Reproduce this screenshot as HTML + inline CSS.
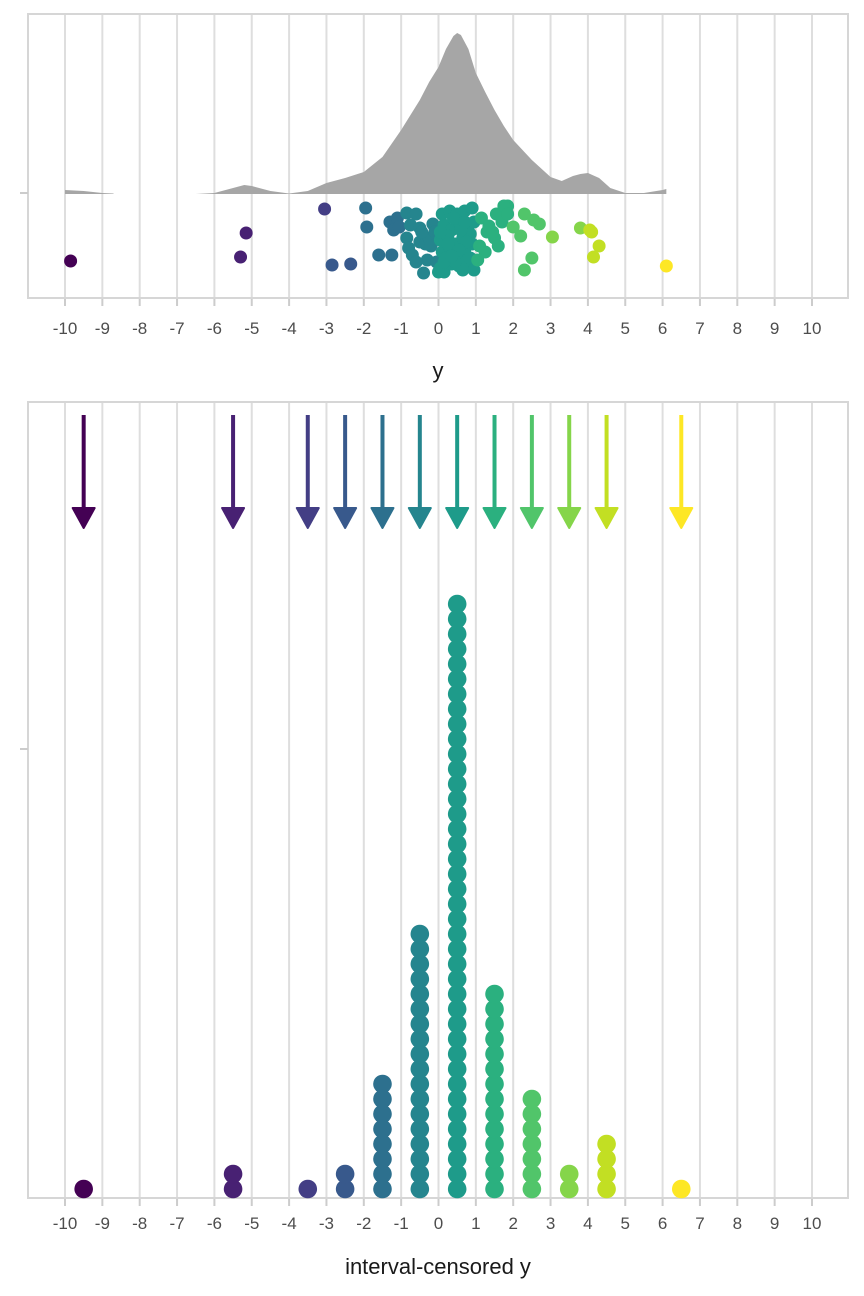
<!DOCTYPE html>
<html><head><meta charset="utf-8"><style>
html,body{margin:0;padding:0;background:#fff;}
svg{display:block;font-family:"Liberation Sans",Arial,sans-serif;}
</style></head><body>
<svg id="chart" width="864" height="1296" viewBox="0 0 864 1296">
<g id="topPanel"></g>
<g id="botPanel"></g>
<text x="438" y="378" font-size="22" text-anchor="middle" fill="#1a1a1a">y</text>
<text x="438" y="1274" font-size="22" text-anchor="middle" fill="#1a1a1a">interval-censored y</text>
</svg>
<script>
const ticks=[-10,-9,-8,-7,-6,-5,-4,-3,-2,-1,0,1,2,3,4,5,6,7,8,9,10];
const binMids=[-9.5,-5.5,-3.5,-2.5,-1.5,-0.5,0.5,1.5,2.5,3.5,4.5,6.5];
const binCounts=[1,2,1,2,8,18,40,14,7,2,4,1];
const binColors=["#440154","#482173","#433E85","#38598C","#2D708E","#25858E","#1E9B8A","#2BB07F","#51C56A","#85D54A","#C2DF23","#FDE725"];
const densX1=[-10,-9.5,-9,-8.7];
const densH1=[4,3,1,0.5];
const densX2=[-6.5,-6,-5.5,-5.2,-5,-4.5,-4,-3.5,-3,-2.5,-2,-1.5,-1,-0.5,-0.25,0,0.2,0.4,0.5,0.6,0.8,1,1.25,1.5,1.75,2,2.5,3,3.3,3.6,3.8,4,4.3,4.6,5,5.5,6,6.1];
const densH2=[0,1,6,9,8,3,0.5,3,11,16,22,37,64,94,112,127,145,158,161,159,145,121,102,84,68,54,34,17,13,18,20,21,16,6,1,1,4,5];
const ptX=[-9.85,-5.15,-5.3,-3.05,-2.85,-2.35,-1.95,-1.92,-1.6,-1.25,-1.3,-1.2,-1.1,-1.05,
-0.85,-0.75,-0.85,-0.6,-0.5,-0.8,-0.7,-0.5,-0.35,-0.25,-0.2,-0.3,-0.15,-0.4,-0.6,-0.1,-0.45,-0.05,
0.1,0.3,0.5,0.7,0.9,0.15,0.35,0.55,0.8,0.05,0.25,0.45,0.65,0.85,0.1,0.3,0.5,0.7,0.9,0.05,0.15,0.35,0.55,0.75,0.95,0.2,0.6,0.4,0.85,0.65,0.0,0.45,0.25,0.75,0.95,0.15,0.55,0.35,0.7,0.05,
1.15,1.3,1.1,1.35,1.5,1.55,1.7,1.85,1.75,1.6,1.25,1.85,1.05,1.45,
2.0,2.3,2.55,2.7,2.2,2.5,2.3,3.05,3.8,4.05,4.1,4.3,4.15,6.1];
const ptJ=[261,233,257,209,265,264,208,227,255,255,222,230,218,227,
213,225,238,214,228,248,255,242,244,238,246,260,224,273,262,232,232,262,
214,211,214,211,208,225,230,222,226,240,236,244,238,234,252,248,256,250,244,268,272,264,266,262,270,258,230,218,258,270,272,262,244,242,222,262,250,256,222,232,
218,232,246,226,238,214,222,206,206,246,252,214,260,232,
227,214,220,224,236,258,270,237,228,230,232,246,257,266];
const NS="http://www.w3.org/2000/svg";
const xs=v=>438.5+v*37.35;
function mk(p,t,a){const e=document.createElementNS(NS,t);for(const k in a)e.setAttribute(k,a[k]);p.appendChild(e);return e;}
function colorFor(v){for(let i=0;i<binMids.length;i++){if(v>=binMids[i]-0.5&&v<binMids[i]+0.5)return binColors[i];}return binColors[binColors.length-1];}
function frame(g,y0,y1,tickY,labY){
 ticks.forEach(t=>{const l=mk(g,'line',{x1:xs(t),x2:xs(t),y1:y0,y2:y1,stroke:'#dedede','stroke-width':2});
 
 
 const tk=mk(g,'line',{x1:xs(t),x2:xs(t),y1:y1,y2:y1+8,stroke:'#cccccc','stroke-width':2});
 
 
 const tx=mk(g,'text',{x:xs(t),y:labY,'font-size':17,'text-anchor':'middle',fill:'#4d4d4d'});tx.textContent=String(t);
 
 });
 const r=mk(g,'rect',{x:28,y:y0,width:820,height:y1-y0,fill:'none',stroke:'#d6d6d6','stroke-width':2});
 
 
 const yt=mk(g,'line',{x1:20,x2:28,y1:tickY,y2:tickY,stroke:'#cccccc','stroke-width':2});
 
 
}
const topG=document.getElementById('topPanel'),botG=document.getElementById('botPanel');
frame(topG,14,298,193,334);
frame(botG,402,1198,749,1229);
const base=194;
function dens(X,H){let d='M'+xs(X[0])+','+base;X.forEach((x,i)=>{d+=' L'+xs(x)+','+(base-H[i]);});d+=' L'+xs(X[X.length-1])+','+base+' Z';
 const p=mk(topG,'path',{d:d,fill:'#a6a6a6'});
 
 }
dens(densX1,densH1);dens(densX2,densH2);
ptX.forEach((x,i)=>{const c=mk(topG,'circle',{cx:xs(x),cy:ptJ[i],r:6.5,fill:colorFor(x)});
 
 });
binMids.forEach((m,i)=>{const col=binColors[i],x=xs(m);
 const l=mk(botG,'line',{x1:x,x2:x,y1:415,y2:510,stroke:col,'stroke-width':4});
 
 
 const h=mk(botG,'polygon',{points:(x-11)+',508 '+(x+11)+',508 '+x+',528',fill:col,stroke:col,'stroke-width':2,'stroke-linejoin':'round'});
 
 
 for(let k=0;k<binCounts[i];k++){const c=mk(botG,'circle',{cx:x,cy:1189-k*15,r:9.3,fill:col});
  
  }
});
</script>
</body></html>
